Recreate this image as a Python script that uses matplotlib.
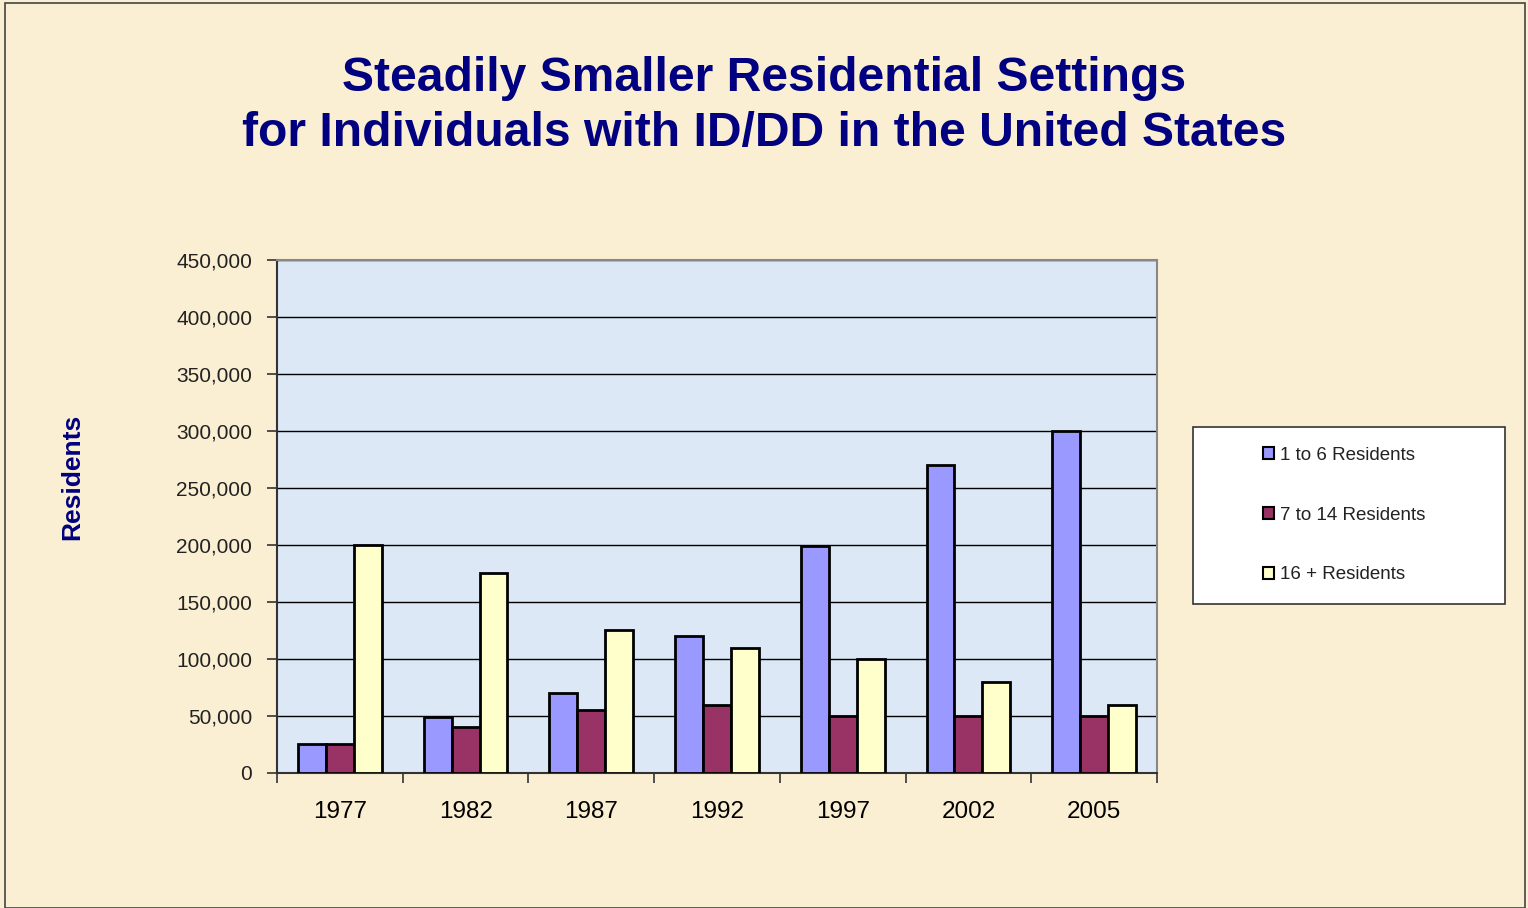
import numpy as np
import matplotlib.pyplot as plt
from matplotlib.patches import Rectangle
from matplotlib.ticker import FuncFormatter, MultipleLocator, FixedLocator

# data
years = ['1977', '1982', '1987', '1992', '1997', '2002', '2005']
small = [25000, 49000, 70000, 120000, 199000, 270000, 300000]      # 1 to 6
medium = [25000, 40000, 55000, 60000, 50000, 50000, 50000]         # 7 to 14
large = [200000, 175000, 125000, 110000, 100000, 80000, 60000]     # 16 +
labels = ['1 to 6 Residents', '7 to 14 Residents', '16 + Residents']
colors = ['#9999FF', '#993366', '#FFFFCC']

plt.rcParams['font.family'] = ['Liberation Sans', 'DejaVu Sans']

fig = plt.figure(figsize=(15.28, 9.08), dpi=100)
fig.patch.set_facecolor('#FAEFD2')
fig.patches.append(Rectangle((0.003, 0.0), 0.995, 0.997, transform=fig.transFigure,
                             fill=False, edgecolor='#444444', lw=1.2))

ax = fig.add_axes([0.1813, 0.1487, 0.5759, 0.565])
ax.set_facecolor('#DCE8F6')

x = np.arange(len(years))
w = 0.222
bars = []
for i, (vals, c) in enumerate(zip([small, medium, large], colors)):
    b = ax.bar(x + (i - 1) * w, vals, w, color=c, edgecolor='black', linewidth=2,
               label=labels[i], zorder=3)
    bars.append(b)

ax.set_xlim(-0.5, len(years) - 0.5)
ax.set_ylim(0, 450000)
ax.yaxis.set_major_locator(MultipleLocator(50000))
ax.yaxis.set_major_formatter(FuncFormatter(lambda v, p: f'{int(v):,}'))
ax.grid(axis='y', color='black', lw=1, zorder=1)

ax.set_xticks(x)
ax.set_xticklabels(years, fontsize=17.5, color='black')
ax.xaxis.set_minor_locator(FixedLocator(np.arange(-0.5, len(years), 1)))
ax.tick_params(axis='x', which='major', length=0, pad=20)
ax.tick_params(axis='x', which='minor', length=7, width=1.2, color='#333333', direction='out')
ax.tick_params(axis='y', length=7, width=1.2, color='#333333', labelsize=15,
               labelcolor='#222222', pad=11)

for s in ['left', 'bottom']:
    ax.spines[s].set_color('#333333')
    ax.spines[s].set_linewidth(1.5)
for s in ['top', 'right']:
    ax.spines[s].set_color('#888888')
    ax.spines[s].set_linewidth(1.5)

fig.text(0.047, 0.4747, 'Residents', rotation=90, ha='center', va='center',
         fontsize=19, fontweight='bold', color='#000080')

fig.text(0.50, 0.913, 'Steadily Smaller Residential Settings', ha='center', va='center',
         fontsize=34.6, fontweight='bold', color='#000080')
fig.text(0.50, 0.853, 'for Individuals with ID/DD in the United States', ha='center',
         va='center', fontsize=34.6, fontweight='bold', color='#000080')

# legend box drawn separately so the entries can sit indented inside it
fig.patches.append(Rectangle((1193 / 1528, 1 - 604 / 908), 312 / 1528, 177 / 908,
                             transform=fig.transFigure, facecolor='white',
                             edgecolor='#333333', lw=1.2, zorder=1))
leg = fig.legend(handles=bars, labels=labels, loc='center left',
                 bbox_to_anchor=(1263 / 1528, 1 - 515 / 908),
                 fontsize=13.5, frameon=False, handlelength=0.6,
                 handleheight=0.6, handletextpad=0.3, labelspacing=2.28,
                 borderpad=0, borderaxespad=0)
leg.set_zorder(2)
for t in leg.get_texts():
    t.set_color('#222222')
for h in leg.legend_handles:
    h.set_linewidth(1.5)

fig.savefig('out.png', dpi=100, facecolor=fig.get_facecolor())
